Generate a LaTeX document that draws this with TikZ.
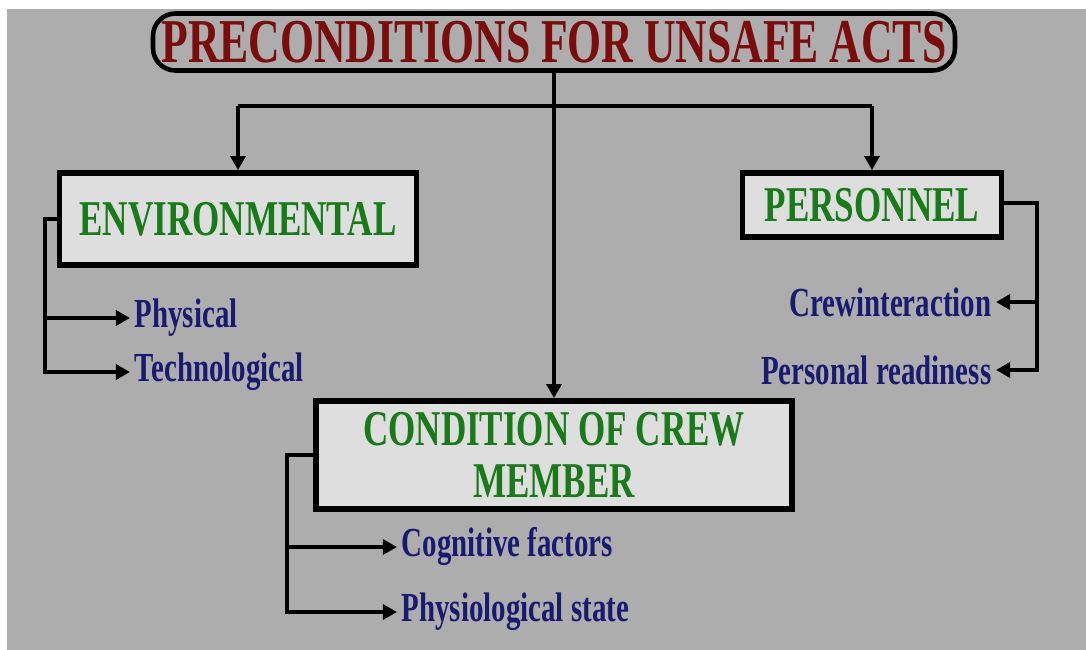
\documentclass[tikz,border=0pt]{standalone}
\usepackage{fontspec}
\newfontfamily\condfont[FakeStretch=0.7]{Liberation Serif}
\usetikzlibrary{arrows.meta,positioning}
\definecolor{panel}{RGB}{173,173,173}
\definecolor{boxfill}{RGB}{222,222,222}
\definecolor{headred}{RGB}{122,12,12}
\definecolor{catgreen}{RGB}{24,122,24}
\definecolor{itemblue}{RGB}{26,26,112}
\tikzset{
	head/.style={draw,line width=2.6pt,rounded corners=0.45cm,fill=panel,minimum width=16.04cm,minimum height=1.14cm,inner sep=0pt,text=headred,font=\condfont\bfseries\fontsize{35.5}{40}\selectfont},
	cat/.style={draw,line width=3.3pt,fill=boxfill,align=center,text=catgreen,inner sep=0pt,font=\condfont\bfseries\fontsize{28.5}{30}\selectfont},
	item/.style={text=itemblue,inner sep=2.5pt,font=\condfont\bfseries\fontsize{23.5}{25}\selectfont},
	link/.style={line width=2.7pt},
	>={Triangle[length=8pt,width=8.5pt]}
}

\begin{document}
\begin{tikzpicture}[x=0.2mm,y=-0.2mm]
	\useasboundingbox (0,0) rectangle (1086,650);
	\fill[panel] (7,9) rectangle (1086,650);

	\node[head] (title) at (554,42) {PRECONDITIONS FOR UNSAFE ACTS};
	\node[cat,minimum width=7.14cm,minimum height=1.84cm] (env) at (238,219) {ENVIRONMENTAL};
	\node[cat,minimum width=5.18cm,minimum height=1.28cm] (pers) at (872,205) {PERSONNEL};
	\node[cat,minimum width=9.52cm,minimum height=2.16cm] (cond) at (554,455) {CONDITION OF CREW\\MEMBER};

	\node[item,anchor=west] (phys) at (130,318) {Physical};
	\node[item,anchor=west] (tech) at (130,372) {Technological};
	\node[item,anchor=east] (crew) at (996,302) {Crewinteraction};
	\node[item,anchor=east] (ready) at (996,370) {Personal readiness};
	\node[item,anchor=west] (cog) at (397,547) {Cognitive factors};
	\node[item,anchor=west] (state) at (397,612) {Physiological state};

	\node[coordinate] (splitl) at (238,106) {};
	\node[coordinate] (splitr) at (872,106) {};
	\node[coordinate] (envbus) at (45,219) {};
	\node[coordinate] (persbus) at (1037,203) {};
	\node[coordinate] (condbus) at (287,455) {};

	\draw[link,->] (title) -- (cond);
	\draw[link] (splitl) -- (splitr);
	\draw[link,->] (splitl) -- (env);
	\draw[link,->] (splitr) -- (pers);

	\draw[link,->] (env) -- (envbus) |- (phys);
	\draw[link,->] (envbus) |- (tech);
	\draw[link,->] (pers.east |- persbus) -- (persbus) |- (crew);
	\draw[link,->] (persbus) |- (ready);
	\draw[link,->] (cond) -- (condbus) |- (cog);
	\draw[link,->] (condbus) |- (state);
\end{tikzpicture}
\end{document}
